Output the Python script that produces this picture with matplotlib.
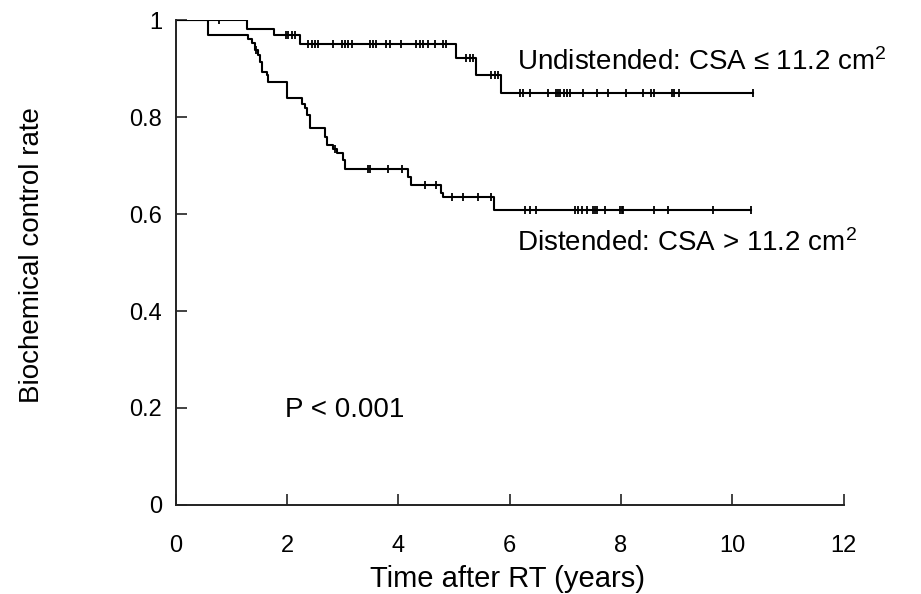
import numpy as np
import matplotlib
matplotlib.use("Agg")
import matplotlib.pyplot as plt

plt.rcParams["font.family"] = ["Liberation Sans", "DejaVu Sans"]
plt.rcParams["mathtext.fontset"] = "custom"
plt.rcParams["mathtext.rm"] = "Liberation Sans"
plt.rcParams["mathtext.it"] = "Liberation Sans:italic"

# Kaplan-Meier step data
undist_times = [0, 1.28, 1.77, 2.23, 5.04, 5.40, 5.84, 10.37]
undist_surv = [1.0, 0.981, 0.969, 0.950, 0.921, 0.887, 0.849, 0.849]
undist_cens = [0.77, 1.97, 2.02, 2.08, 2.14, 2.38, 2.44, 2.50, 2.56, 2.83, 2.98, 3.04,
               3.10, 3.16, 3.48, 3.54, 3.59, 3.78, 3.84, 4.05, 4.32, 4.38, 4.44, 4.53,
               4.65, 4.80, 4.86, 5.22, 5.28, 5.34, 5.67, 5.73, 5.79, 6.18, 6.23, 6.36,
               6.69, 6.83, 6.87, 6.91, 6.97, 7.03, 7.08, 7.31, 7.56, 7.77, 8.08, 8.39,
               8.54, 8.60, 8.92, 8.96, 9.05, 10.37]

dist_times = [0, 0.57, 1.30, 1.36, 1.42, 1.48, 1.51, 1.54, 1.63, 1.66, 1.99, 2.26, 2.32,
              2.35, 2.41, 2.68, 2.71, 2.83, 2.89, 3.01, 3.04, 4.17, 4.23, 4.77, 4.80,
              5.72, 10.34]
dist_surv = [1.0, 0.969, 0.962, 0.952, 0.938, 0.928, 0.914, 0.893, 0.887, 0.873, 0.839,
             0.828, 0.818, 0.804, 0.777, 0.759, 0.742, 0.735, 0.725, 0.711, 0.694, 0.677,
             0.660, 0.643, 0.636, 0.608, 0.608]
dist_cens = [1.44, 2.86, 3.46, 3.48, 3.81, 4.07, 4.47, 4.68, 4.97, 5.16, 5.43, 5.67,
             6.27, 6.36, 6.48, 7.17, 7.23, 7.29, 7.38, 7.50, 7.53, 7.56, 7.71, 7.98,
             8.01, 8.04, 8.60, 8.84, 9.65, 10.34]

xticks = [0, 2, 4, 6, 8, 10, 12]
yticks = [0, 0.2, 0.4, 0.6, 0.8, 1]
ytick_labels = ["0", "0.2", "0.4", "0.6", "0.8", "1"]


def step_value(t, times, surv):
    idx = np.searchsorted(times, t, side="right") - 1
    return np.array(surv)[idx]


fig = plt.figure(figsize=(9.21, 5.94), dpi=100)
ax = fig.add_axes([0.191, 0.150, 0.725, 0.816])

for times, surv, cens in [(undist_times, undist_surv, undist_cens),
                          (dist_times, dist_surv, dist_cens)]:
    ax.plot(times, surv, drawstyle="steps-post", color="black", lw=1.5)
    ax.plot(cens, step_value(cens, times, surv), ls="none", marker="|",
            color="black", markersize=6, markeredgewidth=1.3)

ax.set_xlim(0, 12)
ax.set_ylim(0, 1)
ax.spines["top"].set_visible(False)
ax.spines["right"].set_visible(False)
for s in ["left", "bottom"]:
    ax.spines[s].set_linewidth(1.4)
    ax.spines[s].set_color("#222222")

ax.set_xticks(xticks)
ax.set_yticks(yticks)
ax.set_yticklabels(ytick_labels)
ax.tick_params(direction="in", length=8, width=1.2, labelsize=17, color="#222222")
ax.tick_params(axis="x", pad=22)
ax.tick_params(axis="y", pad=10)

ax.set_xlabel("Time after RT (years)", fontsize=21)
ax.xaxis.set_label_coords(0.497, -0.123)
ax.set_ylabel("Biochemical control rate", fontsize=20)
ax.yaxis.set_label_coords(-0.196, 0.515)

ax.text(6.125, 0.913, "Undistended: CSA \u2264 11.2 cm$^2$", fontsize=20, va="center")
ax.text(6.125, 0.540, "Distended: CSA > 11.2 cm$^2$", fontsize=20, va="center")
ax.text(1.96, 0.196, "P < 0.001", fontsize=20, va="center")

fig.savefig("out.png", dpi=100)
